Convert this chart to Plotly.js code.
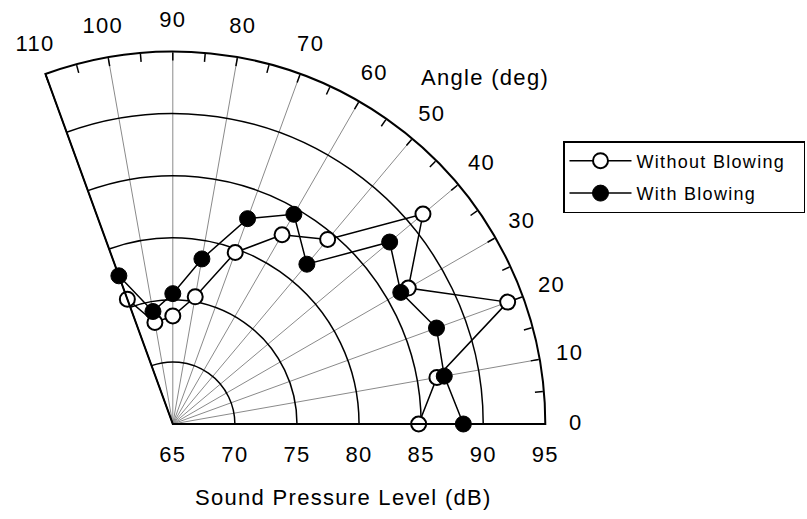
<!DOCTYPE html>
<html>
<head>
<meta charset="utf-8">
<script src="https://cdn.plot.ly/plotly-3.0.1.min.js"></script>
<style>
  html, body { margin: 0; padding: 0; background: #fff; }
  #chart { width: 807px; height: 519px; }
  svg text { letter-spacing: 1.3px; }
</style>
</head>
<body>
<div id="chart"></div>
<script>
// Angle (deg) at which each level was measured
const angles = [0, 10, 20, 30, 40, 50, 60, 70, 80, 90, 100, 110];
// Sound pressure level (dB)
const withoutBlowing = [84.8, 86.6, 93.7, 86.9, 91.3, 84.4, 82.6, 79.7, 75.4, 73.7, 73.3, 75.7];
const withBlowing    = [88.4, 87.2, 87.6, 86.2, 87.8, 81.8, 84.5, 82.6, 78.5, 75.5, 74.2, 77.7];
// Axis settings
const radialRange = [65, 95];
const radialTicks = [65, 70, 75, 80, 85, 90, 95];
const angularTicks = [0, 10, 20, 30, 40, 50, 60, 70, 80, 90, 100, 110];
const angularTickLabels = ['0', '10', '20', '30', '40', '50', '60', '70', '80', '90', '100', '110'];
const seriesNames = ['Without Blowing', 'With Blowing'];

const FONT = 'Liberation Sans, Arial, Helvetica, sans-serif';
const W = 807, H = 519;
const CX = 172.8, CY = 424, R = 372.5;   // centre and rim radius of the plot (px)
const RL = 403;                           // radius of the ring carrying the angle labels (px)
const K = Math.abs(Math.cos(110 * Math.PI / 180));
function dom(rad) {
  return {x: [(CX - K * rad) / W, (CX + rad) / W], y: [(H - CY) / H, (H - CY + rad) / H]};
}
const LEG_PAD = '\u00a0\u00a0'; // extra right padding inside the legend box

const traces = [
  // angle tick labels: drawn on an outer, invisible ring subplot at its rim
  {
    type: 'scatterpolar', subplot: 'polar3', mode: 'text',
    r: angularTicks.map(() => 1), theta: angularTicks, text: angularTickLabels,
    textposition: 'middle center',
    textfont: {family: FONT, size: 22, color: '#000'},
    showlegend: false, hoverinfo: 'skip', cliponaxis: false
  },
  // empty trace so the grid subplot is drawn
  {
    type: 'scatterpolar', subplot: 'polar', mode: 'markers',
    r: [], theta: [], showlegend: false, hoverinfo: 'skip'
  },
  {
    type: 'scatterpolar', subplot: 'polar2', mode: 'lines+markers',
    name: seriesNames[0] + LEG_PAD, legendgroup: 'a', r: withoutBlowing, theta: angles,
    line: {color: '#000', width: 1.5},
    marker: {symbol: 'circle', size: 15, color: '#fff', line: {color: '#000', width: 2}},
    cliponaxis: false
  },
  {
    type: 'scatterpolar', subplot: 'polar2', mode: 'lines+markers',
    name: seriesNames[1], legendgroup: 'b', r: withBlowing, theta: angles,
    line: {color: '#000', width: 1.5},
    marker: {symbol: 'circle', size: 16, color: '#000', line: {color: '#000', width: 1}},
    cliponaxis: false
  }
];

const sector = [angularTicks[0], angularTicks[angularTicks.length - 1]];

const layout = {
  width: W, height: H,
  margin: {l: 0, r: 0, t: 0, b: 0, autoexpand: false},
  paper_bgcolor: '#fff',
  font: {family: FONT, color: '#000', size: 22},
  showlegend: true,
  legend: {
    x: 563 / W, y: 1 - 141 / H, xanchor: 'left', yanchor: 'top',
    bgcolor: '#fff', bordercolor: '#000', borderwidth: 1.5,
    traceorder: 'grouped', tracegroupgap: 6, itemwidth: 62,
    font: {family: FONT, size: 18, color: '#000'}
  },
  polar: {
    domain: dom(R), sector: sector, bgcolor: '#fff',
    angularaxis: {
      direction: 'counterclockwise', rotation: 0,
      tickmode: 'array', tickvals: angularTicks,
      showgrid: true, gridcolor: '#8a8a8a', gridwidth: 1,
      ticks: '', showticklabels: false, showline: false
    },
    radialaxis: {
      range: radialRange, angle: 0, side: 'clockwise',
      tickmode: 'array', tickvals: radialTicks, ticktext: radialTicks.map(String),
      showgrid: true, gridcolor: '#000', gridwidth: 1.5,
      showline: false,
      ticks: 'outside', ticklen: 11, tickcolor: 'rgba(0,0,0,0)',
      tickfont: {family: FONT, size: 22, color: '#000'}
    }
  },
  polar2: {
    domain: dom(R), sector: sector, bgcolor: 'rgba(0,0,0,0)',
    angularaxis: {
      direction: 'counterclockwise', rotation: 0,
      tick0: 0, dtick: 5,
      showgrid: false, showticklabels: false,
      ticks: 'inside', ticklen: 8, tickcolor: '#000', tickwidth: 1.5,
      showline: true, linecolor: '#000', linewidth: 2
    },
    radialaxis: {
      range: radialRange, angle: sector[1],
      showgrid: false, showticklabels: false, ticks: '',
      showline: true, linecolor: '#000', linewidth: 1.2
    }
  },
  polar3: {
    domain: dom(RL), sector: sector, bgcolor: 'rgba(0,0,0,0)',
    angularaxis: {
      direction: 'counterclockwise', rotation: 0,
      showgrid: false, showticklabels: false, ticks: '', showline: false
    },
    radialaxis: {
      range: [0, 1], showgrid: false, showticklabels: false, ticks: '', showline: false
    }
  },
  annotations: [
    {text: 'Angle (deg)', xref: 'paper', yref: 'paper', x: 485 / W, y: 1 - 77 / H,
     xanchor: 'center', yanchor: 'middle', showarrow: false,
     font: {family: FONT, size: 22, color: '#000'}},
    {text: 'Sound Pressure Level (dB)', xref: 'paper', yref: 'paper', x: 343 / W, y: 1 - 497 / H,
     xanchor: 'center', yanchor: 'middle', showarrow: false,
     font: {family: FONT, size: 22, color: '#000'}}
  ]
};

Plotly.newPlot('chart', traces, layout, {displayModeBar: false, staticPlot: true});
</script>
</body>
</html>
